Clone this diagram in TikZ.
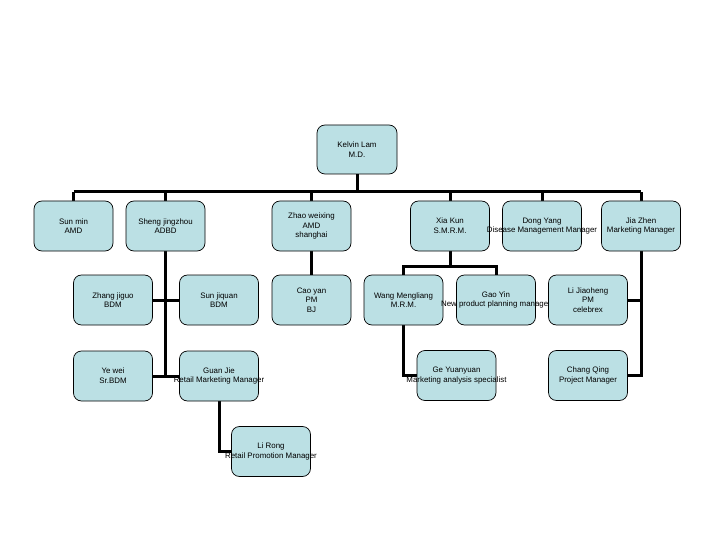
\documentclass[tikz,border=0pt]{standalone}
\usepackage{fontspec}
\setmainfont{Liberation Sans}
\definecolor{boxfill}{RGB}{187,224,228}
\newcommand{\olap}[1]{\makebox[0pt]{#1}}
\pgfdeclarelayer{bg}
\pgfsetlayers{bg,main}
\tikzset{
  orgbox/.style={draw=black, line width=0.7pt, fill=boxfill, rounded corners=8pt,
    minimum width=79pt, minimum height=50pt, inner sep=0pt, align=center,
    font=\fontsize{7.9}{9.7}\selectfont},
  link/.style={line width=3pt, line cap=butt}
}
\begin{document}
\begin{tikzpicture}[x=1pt,y=-1pt]
\useasboundingbox (0,0) rectangle (720,540);
% connector coordinates
\coordinate (busL) at (73.5,192);
\coordinate (busR) at (641,192);
\coordinate (xbus) at (450,266);

% nodes
\node[orgbox, minimum width=80pt, minimum height=49pt] (kelvin) at (357,149.5) {\olap{Kelvin Lam}\\\olap{M.D.}};
\node[orgbox] (sunmin) at (73.5,226) {\olap{Sun min}\\\olap{AMD}};
\node[orgbox] (sheng) at (165.5,226) {\olap{Sheng jingzhou}\\\olap{ADBD}};
\node[orgbox] (zhao) at (311.5,226) {\olap{Zhao weixing}\\\olap{AMD}\\\olap{shanghai}};
\node[orgbox] (xiakun) at (450,226) {\olap{Xia Kun}\\\olap{S.M.R.M.}};
\node[orgbox] (dongyang) at (542,226) {\olap{Dong Yang}\\\olap{Disease Management Manager}};
\node[orgbox] (jiazhen) at (641,226) {\olap{Jia Zhen}\\\olap{Marketing Manager}};
\node[orgbox] (zhangjiguo) at (113,300) {\olap{Zhang jiguo}\\\olap{BDM}};
\node[orgbox] (sunjiquan) at (219,300) {\olap{Sun jiquan}\\\olap{BDM}};
\node[orgbox] (caoyan) at (311.5,300) {\olap{Cao yan}\\\olap{PM}\\\olap{BJ}};
\node[orgbox] (wang) at (403.5,300) {\olap{Wang Mengliang}\\\olap{M.R.M.}};
\node[orgbox] (gaoyin) at (496,300) {\olap{Gao Yin}\\\olap{New product planning manager}};
\node[orgbox] (lijiao) at (588,300) {\olap{Li Jiaoheng}\\\olap{PM}\\\olap{celebrex}};
\node[orgbox] (yewei) at (113,376) {\olap{Ye wei}\\\olap{Sr.BDM}};
\node[orgbox] (guanjie) at (219,376) {\olap{Guan Jie}\\\olap{Retail Marketing Manager}};
\node[orgbox] (ge) at (456.5,375.5) {\olap{Ge Yuanyuan}\\\olap{Marketing analysis specialist}};
\node[orgbox] (changqing) at (588,375.5) {\olap{Chang Qing}\\\olap{Project Manager}};
\node[orgbox] (lirong) at (271,451.5) {\olap{Li Rong}\\\olap{Retail Promotion Manager}};

\begin{pgfonlayer}{bg}
\begin{scope}[link]
\draw (busL) -- (busR);
\draw (kelvin.south) -- (kelvin.south |- busL);
\draw (sunmin.north) -- (sunmin.north |- busL);
\draw (sheng.north) -- (sheng.north |- busL);
\draw (zhao.north) -- (zhao.north |- busL);
\draw (xiakun.north) -- (xiakun.north |- busL);
\draw (dongyang.north) -- (dongyang.north |- busL);
\draw (jiazhen.north) -- (jiazhen.north |- busL);
% Sheng jingzhou branch
\draw (sheng.south) -- (sheng.south |- yewei.east);
\draw (zhangjiguo.east) -- (sunjiquan.west);
\draw (yewei.east) -- (guanjie.west);
\draw (guanjie.south) |- (lirong.west);
% Zhao branch
\draw (zhao.south) -- (caoyan.north);
% Xia Kun branch
\draw (xiakun.south) -- (xbus);
\draw (wang.north) -- (wang.north |- xbus) -| (gaoyin.north);
\draw (wang.south) |- (ge.west);
% Jia Zhen branch
\draw (jiazhen.south) |- (changqing.east);
\draw (lijiao.east) -- (lijiao.east -| jiazhen.south);
\end{scope}
\end{pgfonlayer}
\end{tikzpicture}
\end{document}
